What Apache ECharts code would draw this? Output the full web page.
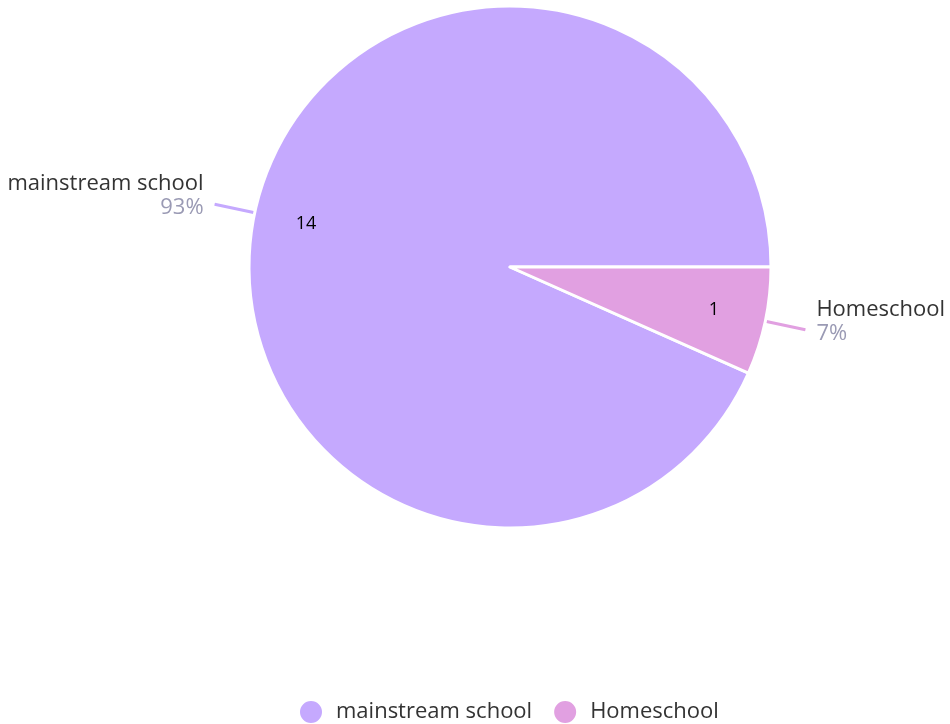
<!DOCTYPE html>
<html>
<head>
<meta charset="utf-8">
<script src="https://cdn.jsdelivr.net/npm/echarts@6/dist/echarts.min.js"></script>
<style>
  html, body { margin: 0; padding: 0; background: #fff; }
  #chart { width: 950px; height: 724px; }
</style>
</head>
<body>
<div id="chart"></div>
<script>
// school type split
var categories = ['mainstream school', 'Homeschool'];
var counts = [14, 1];
var sliceColors = ['#c5a9fe', '#e1a0e1'];

function buildData() {
    return categories.map(function (name, i) {
        return { name: name, value: counts[i] };
    });
}

var dom = document.getElementById('chart');
var chart = echarts.init(dom);

var option = {
    color: sliceColors,
    textStyle: { fontFamily: '"Open Sans", "Noto Sans", sans-serif' },
    legend: {
        bottom: -6,
        left: 293,
        icon: 'circle',
        itemWidth: 24,
        itemHeight: 24,
        itemGap: 20,
        textStyle: { fontSize: 22, color: '#333', padding: [0, 0, 0, 8] },
        data: categories
    },
    series: [
        {
            type: 'pie',
            center: [510, 267],
            radius: [0, 261],
            startAngle: 336,
            clockwise: true,
            avoidLabelOverlap: false,
            itemStyle: { borderColor: '#fff', borderWidth: 3 },
            label: {
                show: true,
                position: 'outside',
                alignTo: 'none',
                distanceToLabelLine: 11,
                rich: {
                    n: { fontSize: 22, color: '#333', lineHeight: 24 },
                    p: { fontSize: 22, color: '#9a9ab4', lineHeight: 24 },
                    e: { fontSize: 10, lineHeight: 16 }
                },
                formatter: function (p) {
                    return '{n|' + p.name + '}\n{p|' + Math.round(p.percent) + '%}\n{e| }';
                }
            },
            labelLine: {
                show: true,
                length: 41,
                length2: 0,
                lineStyle: { width: 3 }
            },
            emphasis: { scale: false },
            data: buildData()
        },
        {
            // value labels placed inside the slices
            type: 'pie',
            center: [510, 267],
            radius: [150, 261],
            startAngle: 336,
            clockwise: true,
            silent: true,
            itemStyle: { color: 'rgba(0,0,0,0)' },
            label: {
                show: true,
                position: 'inside',
                formatter: '{c}',
                fontSize: 18,
                color: '#000'
            },
            labelLine: { show: false },
            legendHoverLink: false,
            data: buildData()
        }
    ]
};
chart.setOption(option);
window.addEventListener('resize', function () {
    chart.resize();
});
</script>
</body>
</html>
